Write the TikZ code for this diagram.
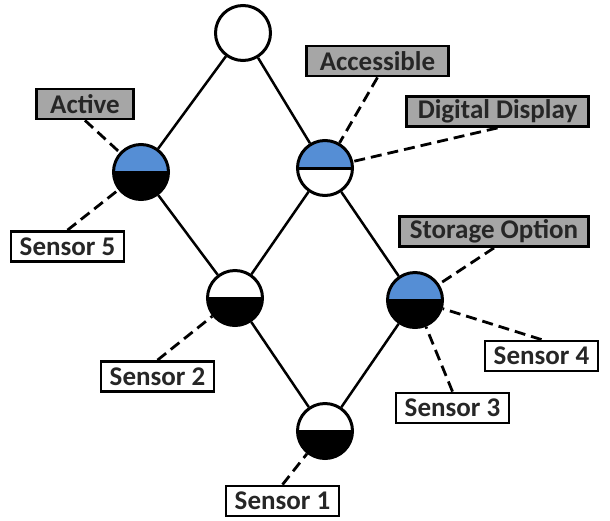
\documentclass[tikz,border=0pt]{standalone}
\usepackage{fontspec}
\setmainfont{Carlito}
\definecolor{hblue}{RGB}{85,142,213}
\definecolor{boxgray}{RGB}{166,166,166}
\definecolor{txt}{RGB}{38,38,38}
\begin{document}
\begin{tikzpicture}[x=1pt,y=-1pt,
 lbl/.style={draw=black, line width=2.8pt, fill=white, minimum height=30pt, inner sep=0pt,
   font=\fontsize{27}{31}\selectfont\bfseries, text=txt},
 glbl/.style={lbl, fill=boxgray},
 vtx/.style={circle, draw=black, line width=3pt, minimum size=55pt, inner sep=0pt, fill=white},
 half/.style 2 args={vtx, path picture={
   \fill[#1] (path picture bounding box.north west) rectangle (path picture bounding box.east);
   \fill[#2] (path picture bounding box.west) rectangle (path picture bounding box.south east);
   \draw[black, line width=3pt] (path picture bounding box.west) -- (path picture bounding box.east);}},
 link/.style={line width=2.5pt},
 dsh/.style={line width=2.8pt, dash pattern=on 11pt off 6pt},
]
\useasboundingbox (0,0) rectangle (610,520);
% vertices
\node[vtx] (top) at (243,33) {};
\node[half={hblue}{black}] (act) at (141,172) {};
\node[half={hblue}{white}] (acc) at (325,168) {};
\node[half={white}{black}] (s2c) at (235,298) {};
\node[half={hblue}{black}] (sto) at (415,300) {};
\node[half={white}{black}] (s1c) at (325,431) {};
% labels
\node[glbl, minimum width=97pt] (bact) at (85,104) {Active};
\node[glbl, minimum width=142pt] (bacc) at (377.5,61) {Accessible};
\node[glbl, minimum width=182pt] (bdig) at (497.5,111.5) {Digital Display};
\node[glbl, minimum width=189pt] (bsto) at (494,231.5) {Storage Option};
\node[lbl, minimum width=113pt] (bs5) at (67.5,246.5) {Sensor 5};
\node[lbl, minimum width=113pt] (bs2) at (157.5,376.5) {Sensor 2};
\node[lbl, minimum width=113pt] (bs4) at (541.5,356) {Sensor 4};
\node[lbl, minimum width=113pt] (bs3) at (452.5,408) {Sensor 3};
\node[lbl, minimum width=113pt] (bs1) at (282.5,501) {Sensor 1};
% solid edges
\draw[link] (top) -- (act);
\draw[link] (top) -- (acc);
\draw[link] (act) -- (s2c);
\draw[link] (acc) -- (s2c);
\draw[link] (acc) -- (sto);
\draw[link] (s2c) -- (s1c);
\draw[link] (sto) -- (s1c);
% dashed connectors
\draw[dsh] (bact.south) -- (act);
\draw[dsh] (bs5.north) -- (act);
\draw[dsh] (bacc.south) -- (acc);
\draw[dsh] (bdig.south) -- (acc);
\draw[dsh] (bsto.south) -- (sto);
\draw[dsh] (bs4.north) -- (sto);
\draw[dsh] (bs3.north) -- (sto);
\draw[dsh] (bs2.north) -- (s2c);
\draw[dsh] (bs1.north) -- (s1c);
\end{tikzpicture}
\end{document}
